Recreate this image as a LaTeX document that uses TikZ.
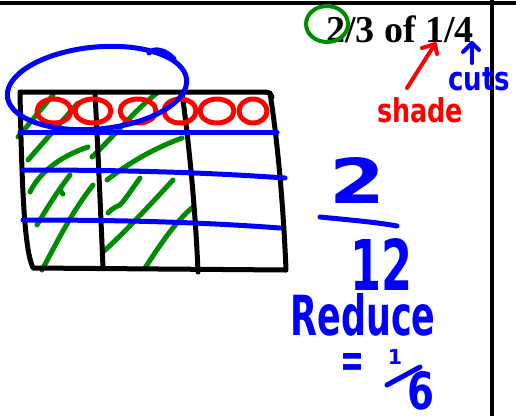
\documentclass[tikz,border=0pt]{standalone}
\usepackage{fontspec}
\setmainfont{Liberation Serif}
\newfontfamily\hand{DejaVu Sans}
\definecolor{pgreen}{RGB}{0,140,0}
\definecolor{pblue}{RGB}{0,0,255}
\definecolor{pred}{RGB}{255,0,0}
\tikzset{
  ink/.style={line width=5pt, line cap=round, line join=round},
  blackink/.style={ink, black},
  blueink/.style={ink, pblue},
  redink/.style={ink, pred},
  greenink/.style={ink, pgreen},
  rule/.style={line width=4pt, black},
  handtext/.style={inner sep=0pt, anchor=base, font=\hand\bfseries}
}
\begin{document}
\begin{tikzpicture}[x=1pt,y=-1pt]
\useasboundingbox (0,0) rectangle (516,416);
\fill[white] (0,0) rectangle (516,416);
% page rules
\draw[rule] (0,3) -- (516,3);
\draw[rule] (492,0) -- (492,416);
% green hatching, left column
\draw[greenink] (18,137) -- (53,95);
\draw[greenink] (28,160) -- (78,103);
\draw[greenink] (30,192) .. controls (36,180) and (50,160) .. (88,147);
\draw[greenink] (37,225) .. controls (47,208) and (57,192) .. (70,175);
\draw[greenink] (60,190) -- (63,194);
\draw[greenink] (42,270) .. controls (58,240) and (72,212) .. (93,185);
% green hatching, middle column
\draw[greenink] (92,157) .. controls (115,135) and (135,110) .. (157,93);
\draw[greenink] (107,180) .. controls (130,162) and (155,148) .. (182,138);
\draw[greenink] (108,213) .. controls (112,208) and (118,206) .. (120,205)
  .. controls (128,196) and (134,186) .. (140,178);
\draw[greenink] (103,252) .. controls (125,232) and (150,205) .. (173,180);
\draw[greenink] (145,268) .. controls (160,245) and (175,222) .. (193,207);
% grid
\draw[blackink] (270,93) .. controls (279,150) and (284,220) .. (286,270)
  -- (33,268) .. controls (25,250) and (22,200) .. (20,92)
  -- (266,92) .. controls (269,92) and (270,93) .. (272,97);
\draw[blackink] (95,93) .. controls (98,150) and (101,220) .. (103,268);
\draw[blackink] (182,93) .. controls (190,150) and (196,220) .. (198,272);
% red loops
\foreach \cx/\rx in {54/17, 93/18, 138/18, 180/16, 217/17, 253/14}
  \draw[redink] (\cx,111) ellipse [x radius=\rx, y radius=12];
% blue cuts
\draw[blueink] (20,132) -- (277,132);
\draw[blueink] (23,170) .. controls (120,170) and (200,172) .. (285,178);
\draw[blueink] (23,220) .. controls (120,220) and (200,222) .. (280,228);
% blue big loop
\draw[blueink] plot[domain=0:360, samples=72, smooth cycle]
  ({97+90*cos(\x)*cos(-5.5)-41*sin(\x)*sin(-5.5)},
   {88+90*cos(\x)*sin(-5.5)+41*sin(\x)*cos(-5.5)});
\draw[blueink] (149,53) .. controls (154,47) and (166,50) .. (174,59);
% title
\node[inner sep=0pt, anchor=base west, font=\fontsize{38}{40}\selectfont\bfseries] (title) at (326,42) {2/3 of 1/4};
\draw[pgreen, line width=4pt] (327,24) ellipse [x radius=21, y radius=18];
% red arrow + shade
\coordinate (rt) at (435,44);
\coordinate (rs) at (407,88);
\draw[redink, line width=4pt] (rs) -- (rt);
\draw[redink, line width=4pt] (422,48) -- (rt) -- (437,54);
\node[handtext, text=pred] (shade) at (420,122) {\resizebox{86pt}{25pt}{shade}};
% blue arrow + cuts
\coordinate (bt) at (472,43);
\coordinate (bs) at (472,63);
\draw[blueink, line width=4pt] (bs) -- (bt);
\draw[blueink, line width=4pt] (463,52) -- (bt) -- (479,50);
\node[handtext, text=pblue] (cuts) at (479,90) {\resizebox{62pt}{23pt}{cuts}};
% fraction
\node[handtext, text=pblue] (num) at (357,203) {\resizebox{56pt}{46pt}{2}};
\draw[blueink] (320,217) .. controls (350,220) and (375,222) .. (397,226);
\node[handtext, text=pblue] (den) at (381,290) {\resizebox{62pt}{52pt}{12}};
\node[handtext, text=pblue] (reduce) at (363,335) {\resizebox{145pt}{42pt}{Reduce}};
\node[handtext, text=pblue] (eq) at (352,377) {\resizebox{24pt}{24pt}{=}};
\node[handtext, text=pblue] (one) at (395,364) {\resizebox{!}{15pt}{1}};
\draw[blueink] (387,385) -- (420,367);
\node[handtext, text=pblue] (six) at (421,409) {\resizebox{27pt}{38pt}{6}};
\end{tikzpicture}
\end{document}
